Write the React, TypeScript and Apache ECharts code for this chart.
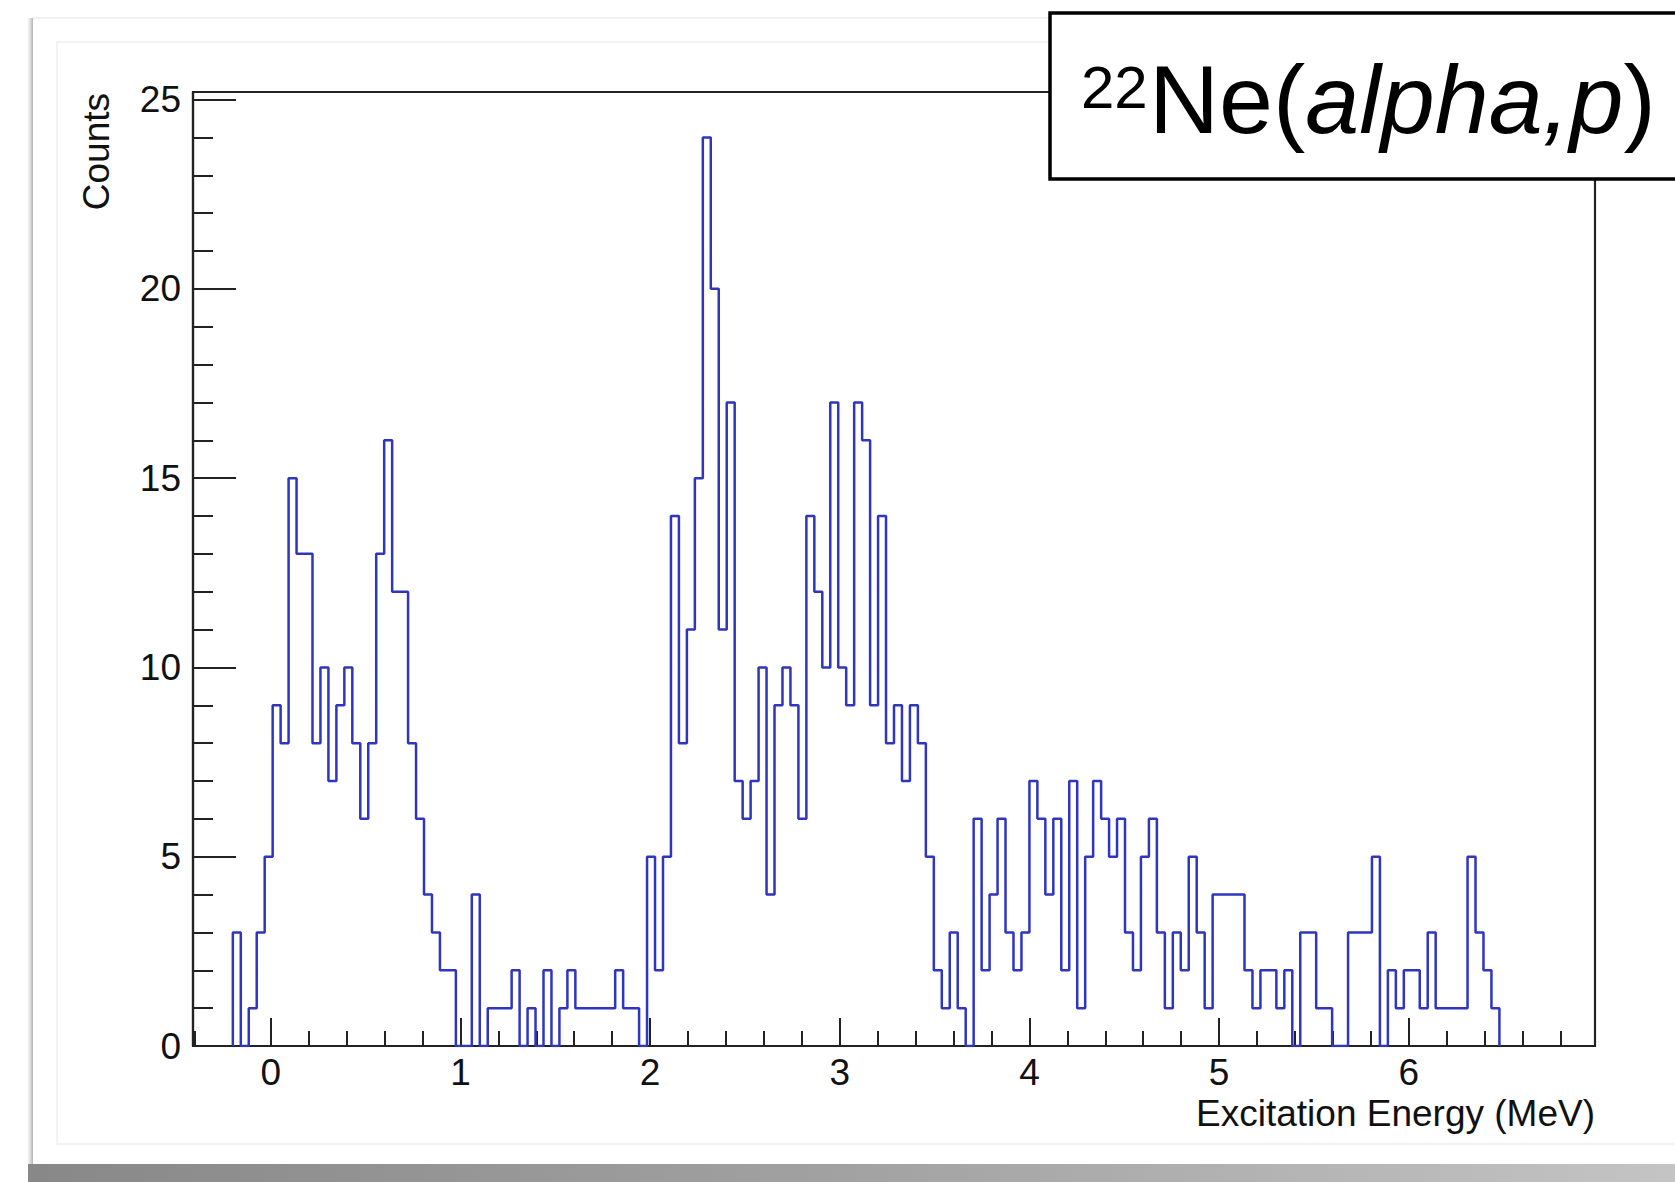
import React, { useEffect, useRef } from "react";
import * as echarts from "echarts";

// Histogram definition (bin edges in MeV) and bin contents
const BIN_START = -0.2;
const BIN_WIDTH = 0.042;
const counts = [
  3, 0, 1, 3, 5, 9, 8, 15, 13, 13,
  8, 10, 7, 9, 10, 8, 6, 8, 13, 16,
  12, 12, 8, 6, 4, 3, 2, 2, 0, 0,
  4, 0, 1, 1, 1, 2, 0, 1, 0, 2,
  0, 1, 2, 1, 1, 1, 1, 1, 2, 1,
  1, 0, 5, 2, 5, 14, 8, 11, 15, 24,
  20, 11, 17, 7, 6, 7, 10, 4, 9, 10,
  9, 6, 14, 12, 10, 17, 10, 9, 17, 16,
  9, 14, 8, 9, 7, 9, 8, 5, 2, 1,
  3, 1, 0, 6, 2, 4, 6, 3, 2, 3,
  7, 6, 4, 6, 2, 7, 1, 5, 7, 6,
  5, 6, 3, 2, 5, 6, 3, 1, 3, 2,
  5, 3, 1, 4, 4, 4, 4, 2, 1, 2,
  2, 1, 2, 0, 3, 3, 1, 1, 0, 0,
  3, 3, 3, 5, 0, 2, 1, 2, 2, 1,
  3, 1, 1, 1, 1, 5, 3, 2, 1,
];

// Axis ranges and ticks
const X_MIN = -0.41;
const X_MAX = 6.982;
const Y_MIN = 0;
const Y_MAX = 25.2;
const xMajorTicks = [0, 1, 2, 3, 4, 5, 6];
const xMinorTicks = [
  -0.4, -0.2, 0.2, 0.4, 0.6, 0.8, 1.2, 1.4, 1.6, 1.8, 2.2, 2.4, 2.6, 2.8,
  3.2, 3.4, 3.6, 3.8, 4.2, 4.4, 4.6, 4.8, 5.2, 5.4, 5.6, 5.8, 6.2, 6.4, 6.6, 6.8,
];
const yMajorTicks = [0, 5, 10, 15, 20, 25];
const yMinorTicks = [
  1, 2, 3, 4, 6, 7, 8, 9, 11, 12, 13, 14, 16, 17, 18, 19, 21, 22, 23, 24,
];

const X_TITLE = "Excitation Energy (MeV)";
const Y_TITLE = "Counts";
const FONT = "'Liberation Sans', Arial, Helvetica, sans-serif";

export default function App() {
  const ref = useRef<HTMLDivElement>(null);

  useEffect(() => {
    if (!ref.current) return;
    const chart = echarts.init(ref.current, undefined, { renderer: "svg" });

    const points: number[][] = [[BIN_START, 0]];
    counts.forEach((c, i) => points.push([BIN_START + i * BIN_WIDTH, c]));
    points.push([BIN_START + counts.length * BIN_WIDTH, 0]);

    const axisColor = "#222222";

    const option: any = {
      animation: false,
      backgroundColor: "#ffffff",
      grid: {
        left: 193,
        right: 80,
        top: 92,
        bottom: 136,
        show: true,
        borderColor: axisColor,
        borderWidth: 2.2,
        backgroundColor: "#ffffff",
      },
      xAxis: [
        {
          type: "value",
          min: X_MIN,
          max: X_MAX,
          position: "bottom",
          axisLine: { show: true, onZero: false, lineStyle: { color: axisColor, width: 2.2 } },
          axisTick: {
            show: true,
            inside: true,
            length: 28,
            customValues: xMajorTicks,
            lineStyle: { color: axisColor, width: 2 },
          },
          axisLabel: {
            show: true,
            customValues: xMajorTicks,
            fontSize: 37,
            fontFamily: FONT,
            color: "#111",
            margin: 8,
          },
          splitLine: { show: false },
        },
        {
          type: "value",
          min: X_MIN,
          max: X_MAX,
          position: "bottom",
          axisLine: { show: false, onZero: false },
          axisTick: {
            show: true,
            inside: true,
            length: 15,
            customValues: xMinorTicks,
            lineStyle: { color: axisColor, width: 2 },
          },
          axisLabel: { show: false },
          splitLine: { show: false },
        },
      ],
      yAxis: [
        {
          type: "value",
          min: Y_MIN,
          max: Y_MAX,
          position: "left",
          axisLine: { show: true, onZero: false, lineStyle: { color: axisColor, width: 2.2 } },
          axisTick: {
            show: true,
            inside: true,
            length: 43,
            customValues: yMajorTicks,
            lineStyle: { color: axisColor, width: 2 },
          },
          axisLabel: {
            show: true,
            customValues: yMajorTicks,
            fontSize: 37,
            fontFamily: FONT,
            color: "#111",
            margin: 12,
          },
          splitLine: { show: false },
        },
        {
          type: "value",
          min: Y_MIN,
          max: Y_MAX,
          position: "left",
          offset: 0,
          axisLine: { show: false, onZero: false },
          axisTick: {
            show: true,
            inside: true,
            length: 20,
            customValues: yMinorTicks,
            lineStyle: { color: axisColor, width: 2 },
          },
          axisLabel: { show: false },
          splitLine: { show: false },
        },
      ],
      series: [
        {
          type: "line",
          xAxisIndex: 0,
          yAxisIndex: 0,
          step: "end",
          showSymbol: false,
          symbol: "none",
          data: points,
          lineStyle: { color: "#2f35bd", width: 2.5 },
          z: 5,
        },
      ],
      graphic: [
        // card shadow and faint frames
        {
          type: "rect",
          z: -10,
          shape: { x: 27, y: 18, width: 6, height: 1148 },
          style: {
            fill: new echarts.graphic.LinearGradient(0, 0, 1, 0, [
              { offset: 0, color: "rgba(200,200,200,0)" },
              { offset: 1, color: "rgba(170,170,170,0.9)" },
            ]),
          },
        },
        {
          type: "line",
          z: -10,
          shape: { x1: 33, y1: 18, x2: 1675, y2: 18 },
          style: { stroke: "#ececec", lineWidth: 1.5 },
        },
        {
          type: "rect",
          z: -10,
          shape: { x: 57, y: 42, width: 1700, height: 1102 },
          style: { fill: "none", stroke: "#efefef", lineWidth: 1.5 },
        },
        {
          type: "rect",
          z: -10,
          shape: { x: 28, y: 1164, width: 1650, height: 18 },
          style: {
            fill: new echarts.graphic.LinearGradient(0, 0, 1, 0, [
              { offset: 0, color: "#888888" },
              { offset: 0.5, color: "#a2a2a2" },
              { offset: 1, color: "#c4c4c4" },
            ]),
          },
        },
        // axis titles
        {
          type: "text",
          z: 10,
          x: 1595,
          y: 1113,
          style: {
            text: X_TITLE,
            fontSize: 37,
            fontFamily: FONT,
            fill: "#111",
            align: "right",
            verticalAlign: "middle",
          },
        },
        {
          type: "text",
          z: 10,
          x: 96,
          y: 93,
          rotation: Math.PI / 2,
          style: {
            text: Y_TITLE,
            fontSize: 37,
            fontFamily: FONT,
            fill: "#111",
            align: "right",
            verticalAlign: "middle",
          },
        },
        // title box
        {
          type: "rect",
          z: 50,
          shape: { x: 1050, y: 13, width: 700, height: 166 },
          style: { fill: "#ffffff", stroke: "#000000", lineWidth: 3.5 },
        },
        {
          type: "text",
          z: 51,
          x: 1081,
          y: 87,
          style: {
            text: "22",
            fontSize: 60,
            fontFamily: FONT,
            fill: "#000",
            align: "left",
            verticalAlign: "middle",
          },
        },
        {
          type: "text",
          z: 51,
          x: 1149,
          y: 99,
          style: {
            text: "{n|Ne(}{i|alpha,p}{n|)}",
            fontFamily: FONT,
            fill: "#000",
            align: "left",
            verticalAlign: "middle",
            rich: {
              n: { fontSize: 97, fontFamily: FONT, fill: "#000" },
              i: { fontSize: 97, fontFamily: FONT, fontStyle: "italic", fill: "#000" },
            },
          },
        },
      ],
    };

    chart.setOption(option);
    return () => chart.dispose();
  }, []);

  return (
    <div
      ref={ref}
      style={{ position: "fixed", left: 0, top: 0, width: 1675, height: 1182, background: "#fff" }}
    />
  );
}
